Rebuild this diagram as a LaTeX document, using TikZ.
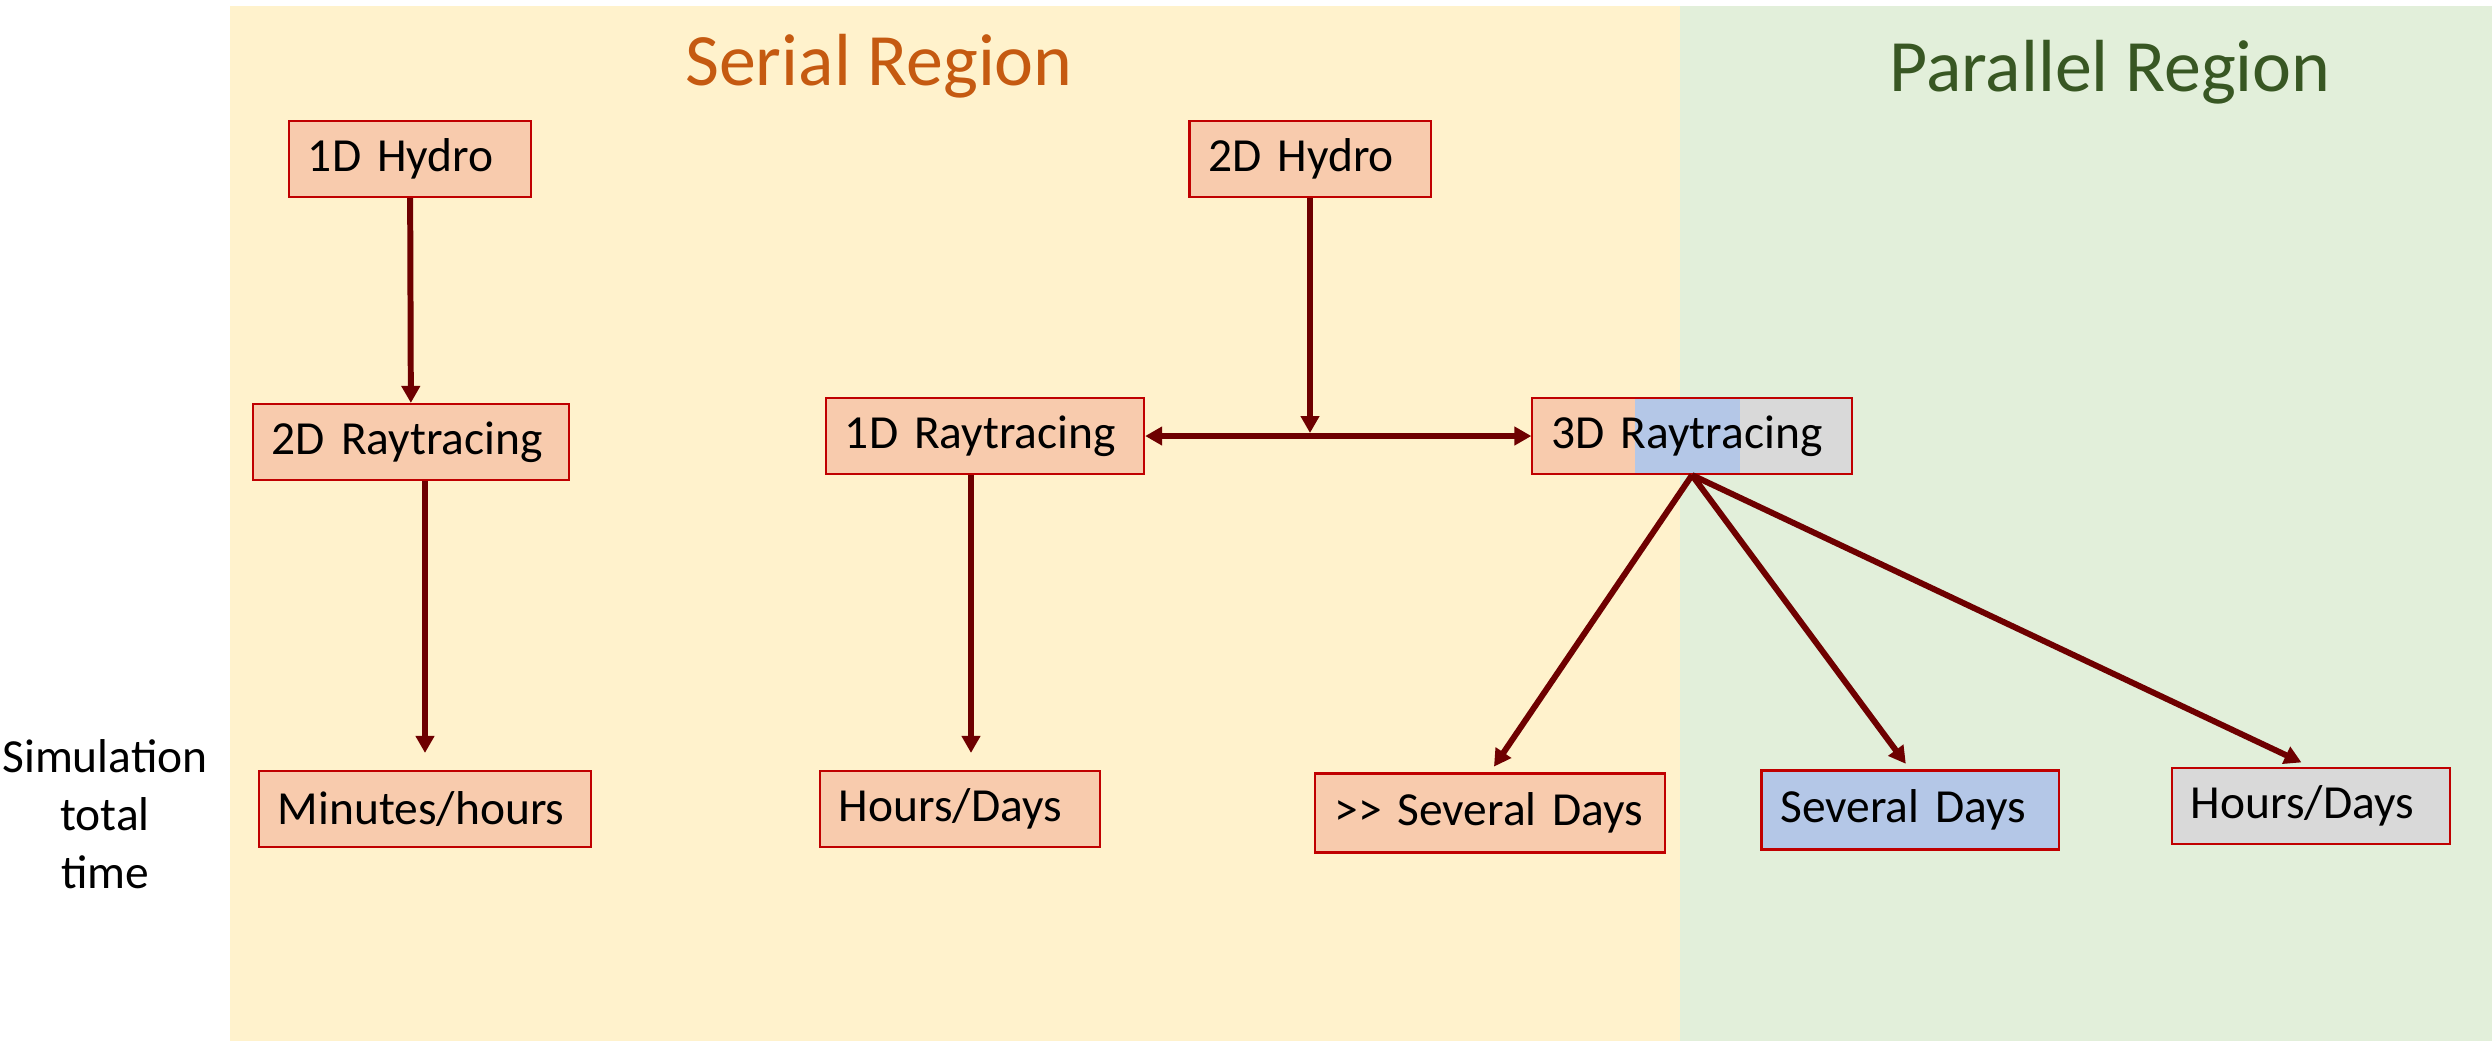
\documentclass[tikz,border=0pt]{standalone}
\usepackage{fontspec}
\setmainfont{Carlito}
\usetikzlibrary{arrows.meta,calc}

\definecolor{serialbg}{RGB}{255,242,204}
\definecolor{parallelbg}{RGB}{226,239,218}
\definecolor{serialtxt}{RGB}{197,90,17}
\definecolor{paralleltxt}{RGB}{56,87,35}
\definecolor{boxfill}{RGB}{248,203,173}
\definecolor{boxline}{RGB}{192,0,0}
\definecolor{bluefill}{RGB}{180,199,231}
\definecolor{grayfill}{RGB}{217,217,217}
\definecolor{arrowred}{RGB}{110,0,0}

\begin{document}
\begin{tikzpicture}[
    x=0.01cm, y=-0.01cm,
    >={Triangle[length=0.17cm, width=0.18cm]},
    box/.style={rectangle, draw=boxline, line width=0.6pt, fill=boxfill, minimum height=0.76cm, inner xsep=0.19cm, inner ysep=0pt, align=left, font=\fontsize{13.5}{16}\selectfont},
    region/.style={font=\fontsize{21}{25}\selectfont},
    arrow/.style={->, line width=1.7pt, draw=arrowred}
]
    \useasboundingbox (0,0) rectangle (2492,1041);

    % Backgrounds
    \fill[serialbg] (230,6) rectangle (1680,1041);
    \fill[parallelbg] (1680,6) rectangle (2492,1041);
    \node[region, text=serialtxt] (serialtitle) at (879,66) {Serial Region};
    \node[region, text=paralleltxt] (paralleltitle) at (2110,72) {Parallel Region};

    % Left label
    \node[align=center, font=\fontsize{13.5}{16.5}\selectfont] (simtime) at (105,814) {Simulation\\total\\time};

    % Hydro
    \node[box, text width=2.04cm] (hydro1) at (410,159) {1D Hydro};
    \node[box, text width=2.03cm] (hydro2) at (1310,159) {2D Hydro};

    % Raytracing
    \node[box, text width=2.78cm] (ray2) at (411,442) {2D Raytracing};
    \node[box, text width=2.80cm] (ray1) at (985,436) {1D Raytracing};
    \node[box, text width=2.81cm, path picture={
        \fill[bluefill] ($(path picture bounding box.south west)!0.32!(path picture bounding box.south east)$) rectangle ($(path picture bounding box.north west)!0.65!(path picture bounding box.north east)$);
        \fill[grayfill] ($(path picture bounding box.south west)!0.65!(path picture bounding box.south east)$) rectangle (path picture bounding box.north east);
    }] (ray3) at (1692,436) {3D Raytracing};

    % Total times
    \node[box, text width=2.94cm] (time1) at (425,809) {Minutes/hours};
    \node[box, text width=2.42cm] (time2) at (960,809) {Hours/Days};
    \node[box, text width=3.11cm, minimum height=0.79cm] (time3) at (1490,813) {{>}{>} Several Days};
    \node[box, text width=2.59cm, minimum height=0.79cm, fill=bluefill] (time4) at (1910,810) {Several Days};
    \node[box, text width=2.40cm, fill=grayfill] (time5) at (2311,806) {Hours/Days};

    % Connections
    \coordinate (junc) at (hydro2.south |- ray1.east);
    \draw[arrow] (hydro1) -- (ray2);
    \draw[arrow, shorten >=0.17cm] (ray2.south -| time1.north) -- (time1.north);
    \draw[arrow, shorten >=0.17cm] ([xshift=-0.14cm]ray1.south) -- ([xshift=-0.14cm]ray1.south |- time2.north);
    \draw[arrow, shorten >=0.85pt] (hydro2) -- (junc);
    \draw[arrow, <->] (ray1) -- (ray3);
    \draw[arrow, shorten >=2pt] (ray3.south) -- (time3.north);
    \draw[arrow, shorten >=2pt] (ray3.south) -- (time4.north);
    \draw[arrow, shorten >=3pt] (ray3.south) -- (time5.north);
\end{tikzpicture}
\end{document}
